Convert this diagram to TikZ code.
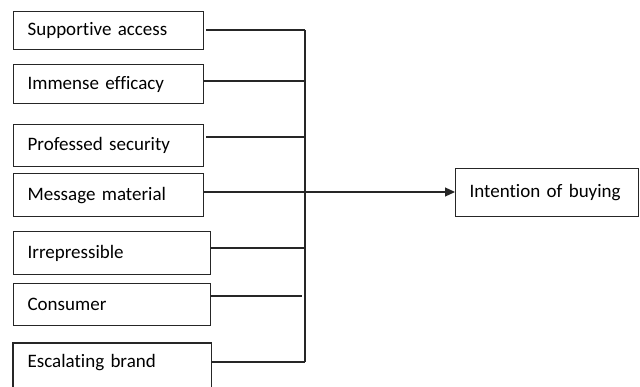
\documentclass[tikz,border=0pt]{standalone}
\usepackage{fontspec}
\setmainfont[Ligatures=NoCommon, WordSpace=0.8]{Carlito}
\usetikzlibrary{arrows.meta}
\begin{document}
\begin{tikzpicture}[x=1pt,y=-1pt,
  box/.style={draw=black!85, line width=1.2pt, rectangle, inner xsep=14pt, inner ysep=0pt,
    minimum height=#1, align=left, anchor=north west, font=\fontsize{19}{23}\selectfont},
  wbox/.style={box=38pt, text width=162pt},
  wbox2/.style={box=43pt, text width=169pt},
  conn/.style={line width=1.2pt, draw=black!85}]
\useasboundingbox (0,0) rectangle (640,387);
\clip (0,0) rectangle (640,387);
\node[wbox] (a) at (13,11) {Supportive access};
\node[box=39pt, text width=162pt] (b) at (13,64) {Immense efficacy};
\node[box=42pt, text width=162pt] (c) at (13,124) {Professed security};
\node[box=43pt, text width=162pt] (d) at (13,173) {Message material};
\node[wbox2] (e) at (13,231) {Irrepressible};
\node[box=42pt, text width=169pt] (f) at (13,283) {Consumer};
\node[box=38pt, text width=169pt, draw=none] (g) at (13,343) {Escalating brand};
\draw[conn] ([yshift=-20pt]g.south west) -- (g.north west) -- (g.north east) -- ([yshift=-20pt]g.south east);
\node[box=48pt, text width=155pt, inner xsep=14pt] (t) at (455,168) {Intention of buying\\[4pt]};
\coordinate (top) at (305,30);
\coordinate (bot) at (305,362);
\draw[conn] (top) -- (bot);
\draw[conn] ([xshift=2pt]a.east |- top) -- (top);
\draw[conn] (b.east |- 0,81) -- (305,81);
\draw[conn] ([xshift=2pt]c.east |- 0,137) -- (305,137);
\draw[conn] (e.east |- 0,248) -- (305,248);
\draw[conn] (f.east |- 0,296) -- (302,296);
\draw[conn] (g.east |- bot) -- (bot);
\draw[conn, -{Triangle[length=10pt,width=9pt]}] (d.east |- 0,192) -- (t.west |- 0,192);
\end{tikzpicture}
\end{document}
